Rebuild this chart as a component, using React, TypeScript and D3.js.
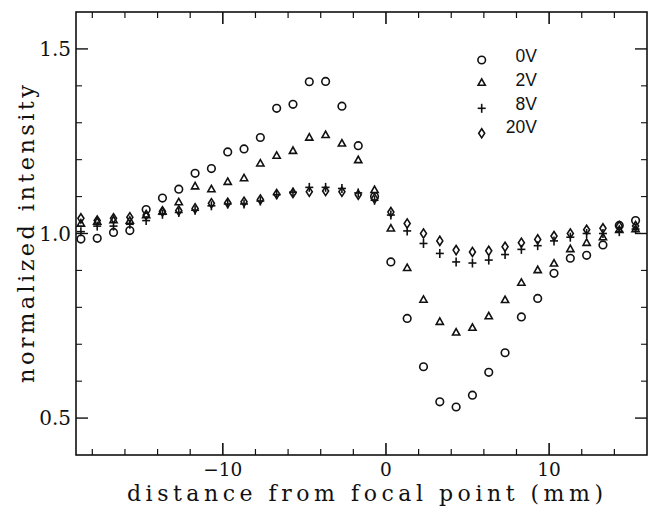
import React from "react";
import * as d3 from "d3";

const distances = [-18.7, -17.7, -16.7, -15.7, -14.7, -13.7, -12.7, -11.7, -10.7, -9.7, -8.7, -7.7, -6.7, -5.7, -4.7, -3.7, -2.7, -1.7, -0.7, 0.3, 1.3, 2.3, 3.3, 4.3, 5.3, 6.3, 7.3, 8.3, 9.3, 10.3, 11.3, 12.3, 13.3, 14.3, 15.3];

const v0 = [0.985, 0.987, 1.003, 1.008, 1.065, 1.096, 1.12, 1.163, 1.176, 1.221, 1.229, 1.26, 1.339, 1.35, 1.411, 1.412, 1.345, 1.238, 1.10, 0.923, 0.77, 0.639, 0.544, 0.53, 0.562, 0.624, 0.677, 0.774, 0.824, 0.892, 0.933, 0.941, 0.969, 1.022, 1.035];
const v2 = [1.027, 1.032, 1.036, 1.035, 1.05, 1.06, 1.085, 1.128, 1.12, 1.14, 1.15, 1.19, 1.211, 1.224, 1.26, 1.267, 1.244, 1.199, 1.118, 1.014, 0.907, 0.821, 0.761, 0.732, 0.745, 0.776, 0.82, 0.867, 0.901, 0.919, 0.958, 0.975, 0.99, 1.01, 1.012];
const v8 = [1.005, 1.02, 1.02, 1.025, 1.035, 1.052, 1.057, 1.063, 1.075, 1.08, 1.08, 1.088, 1.105, 1.112, 1.125, 1.125, 1.122, 1.11, 1.09, 1.05, 1.007, 0.973, 0.946, 0.923, 0.92, 0.928, 0.943, 0.957, 0.967, 0.98, 0.99, 1.0, 1.0, 1.005, 1.012];
const v20 = [1.041, 1.035, 1.041, 1.044, 1.05, 1.06, 1.062, 1.068, 1.082, 1.083, 1.086, 1.092, 1.107, 1.11, 1.113, 1.115, 1.113, 1.105, 1.095, 1.058, 1.027, 1.0, 0.98, 0.955, 0.95, 0.953, 0.964, 0.975, 0.984, 0.993, 1.0, 1.01, 1.014, 1.02, 1.02];

const seriesNames = ["0V", "2V", "8V", "20V"];
const seriesMarkers = ["circle", "triangle", "plus", "diamond"];

const xMajorTicks = [-10, 0, 10];
const xMinorTicks = [-18, -16, -14, -12, -8, -6, -4, -2, 2, 4, 6, 8, 12, 14];
const yMajorTicks = [0.5, 1.0, 1.5];
const yMinorTicks = [0.6, 0.7, 0.8, 0.9, 1.1, 1.2, 1.3, 1.4];

const W = 652;
const H = 506;
const L = 76, R = 647, T = 12, B = 455;

function Marker({ type, cx, cy }: { type: string; cx: number; cy: number }) {
  const s = { fill: "none", stroke: "#111", strokeWidth: 1.6 };
  if (type === "circle") return <circle cx={cx} cy={cy} r={3.8} {...s} />;
  if (type === "triangle") {
    const p = d3.path();
    p.moveTo(cx, cy - 3.8);
    p.lineTo(cx + 3.6, cy + 2.6);
    p.lineTo(cx - 3.6, cy + 2.6);
    p.closePath();
    return <path d={p.toString()} {...s} strokeLinejoin="miter" />;
  }
  if (type === "plus") {
    return (
      <g {...s}>
        <line x1={cx - 4} x2={cx + 4} y1={cy} y2={cy} />
        <line x1={cx} x2={cx} y1={cy - 4.5} y2={cy + 4.5} />
      </g>
    );
  }
  const p = d3.path();
  p.moveTo(cx, cy - 4.6);
  p.lineTo(cx + 3, cy);
  p.lineTo(cx, cy + 4.6);
  p.lineTo(cx - 3, cy);
  p.closePath();
  return <path d={p.toString()} {...s} />;
}

export default function App() {
  const x = d3.scaleLinear().domain([-19, 16]).range([L, R]);
  const y = d3.scaleLinear().domain([0.4, 1.6]).range([B, T]);
  const series = [v0, v2, v8, v20];
  const serif = "'DejaVu Serif', serif";
  const sans = "'Liberation Sans', Arial, sans-serif";
  const legendX = 481.7;
  const legendMarkY = [60, 82.7, 108.3, 133.3];
  const legendTextY = [61.5, 85.5, 109.5, 133];

  return (
    <svg width={W} height={H} style={{ position: "absolute", left: 0, top: 0, background: "#fff" }}>
      <rect x={0} y={0} width={W} height={H} fill="#fff" />
      {/* frame */}
      <rect x={L} y={T} width={R - L} height={B - T} fill="none" stroke="#111" strokeWidth={1.6} />
      {/* x ticks */}
      {xMajorTicks.map((t) => (
        <g key={"xM" + t} stroke="#111" strokeWidth={1.6}>
          <line x1={x(t)} x2={x(t)} y1={B} y2={B - 12} />
          <line x1={x(t)} x2={x(t)} y1={T} y2={T + 12} />
        </g>
      ))}
      {xMinorTicks.map((t) => (
        <g key={"xm" + t} stroke="#111" strokeWidth={1.2}>
          <line x1={x(t)} x2={x(t)} y1={B} y2={B - 6} />
          <line x1={x(t)} x2={x(t)} y1={T} y2={T + 6} />
        </g>
      ))}
      {/* y ticks */}
      {yMajorTicks.map((t) => (
        <g key={"yM" + t} stroke="#111" strokeWidth={1.4}>
          <line x1={L} x2={L + 12} y1={y(t)} y2={y(t)} />
          <line x1={R} x2={R - 12} y1={y(t)} y2={y(t)} />
        </g>
      ))}
      {yMinorTicks.map((t) => (
        <g key={"ym" + t} stroke="#111" strokeWidth={1.1}>
          <line x1={L} x2={L + 6} y1={y(t)} y2={y(t)} />
          <line x1={R} x2={R - 6} y1={y(t)} y2={y(t)} />
        </g>
      ))}
      {/* tick labels */}
      {xMajorTicks.map((t) => (
        <text key={"xl" + t} x={x(t)} y={475.5} textAnchor="middle" fontFamily={serif} fontSize={18.5} fill="#111">
          {t < 0 ? "\u2212" + Math.abs(t) : String(t)}
        </text>
      ))}
      {yMajorTicks.map((t) => (
        <text key={"yl" + t} x={71} y={y(t) + 7.2} textAnchor="end" fontFamily={serif} fontSize={20} fill="#111">
          {t.toFixed(1)}
        </text>
      ))}
      {/* axis titles */}
      <text x={365} y={500.5} textAnchor="middle" fontFamily={serif} fontSize={22} fill="#111" textLength={476} lengthAdjust="spacing">
        distance from focal point (mm)
      </text>
      <text transform="translate(34,234) rotate(-90)" textAnchor="middle" fontFamily={serif} fontSize={22.5} fill="#111" textLength={298} lengthAdjust="spacing">
        normalized intensity
      </text>
      {/* data */}
      {series.map((vals, si) => (
        <g key={"s" + si}>
          {vals.map((v, i) => (
            <Marker key={i} type={seriesMarkers[si]} cx={x(distances[i])} cy={y(v)} />
          ))}
        </g>
      ))}
      {/* legend */}
      {seriesNames.map((n, i) => (
        <g key={"lg" + n}>
          <Marker type={seriesMarkers[i]} cx={legendX} cy={legendMarkY[i]} />
          <text x={537} y={legendTextY[i]} textAnchor="end" fontFamily={sans} fontSize={17.5} fill="#111">
            {n}
          </text>
        </g>
      ))}
    </svg>
  );
}
